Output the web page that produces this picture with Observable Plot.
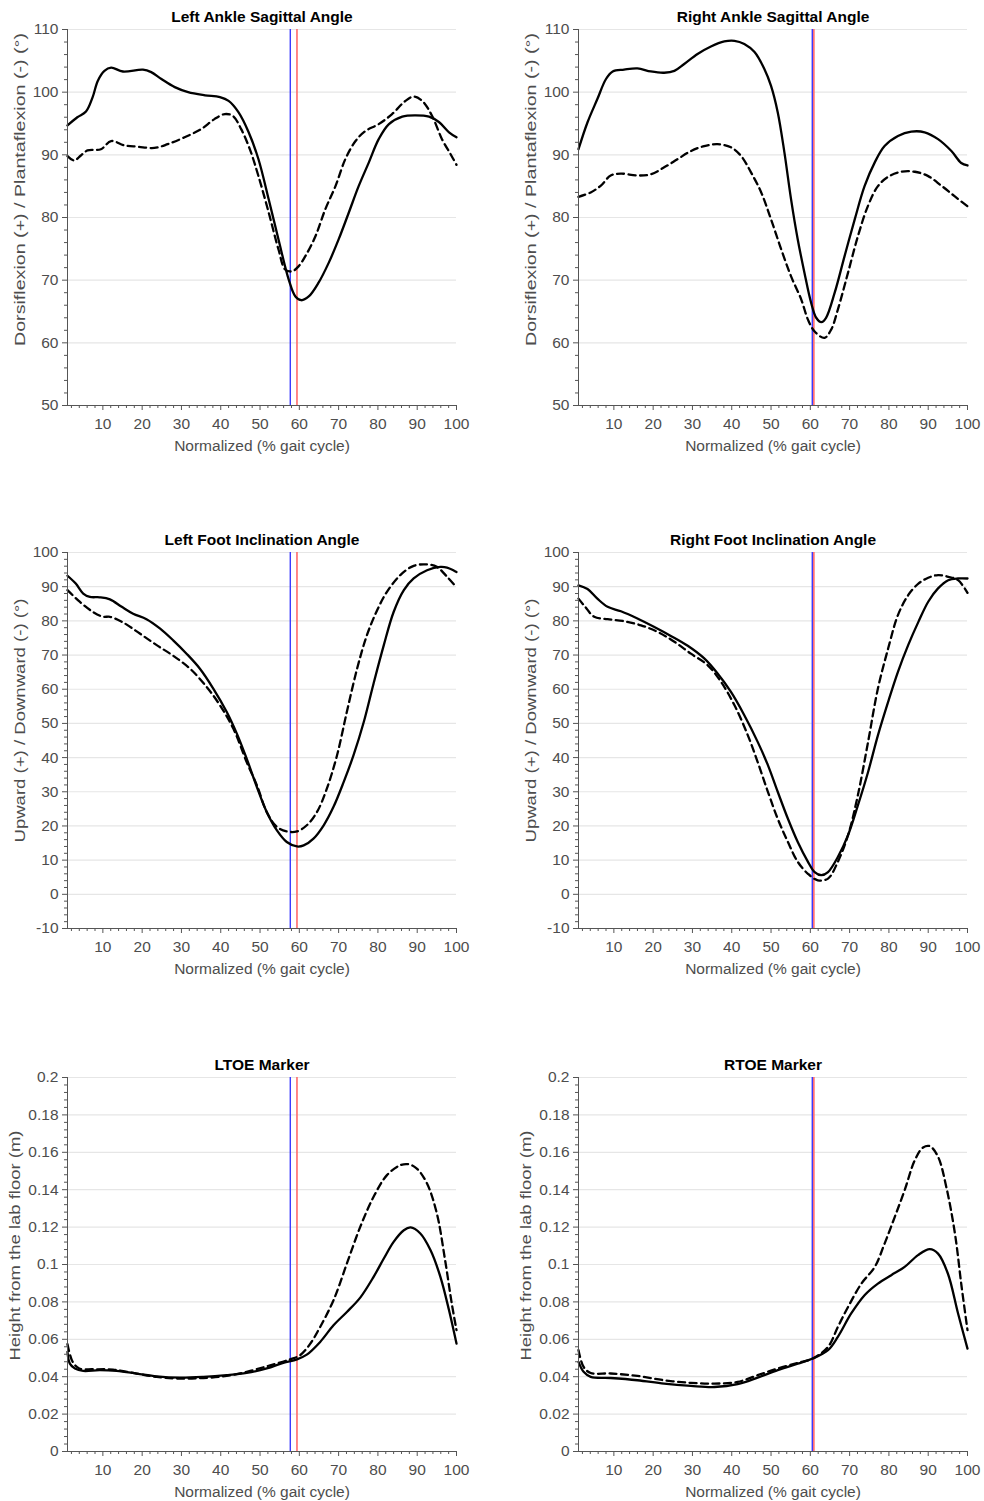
<!DOCTYPE html>
<html>
<head>
<meta charset="utf-8">
<script src="https://cdn.jsdelivr.net/npm/d3@7"></script>
<script src="https://cdn.jsdelivr.net/npm/@observablehq/plot@0.6"></script>
<style>
  html, body { margin: 0; padding: 0; background: #fff; }
  #wrap { position: relative; width: 984px; height: 1501px; overflow: hidden; font-family: "Liberation Sans", Arial, sans-serif; }
  #wrap > div { position: absolute; width: 492px; }
  #wrap svg { max-width: none !important; display: block; }
</style>
</head>
<body>
<div id="wrap"></div>
<script>
// ---------- data ----------
const titles = ["Left Ankle Sagittal Angle", "Right Ankle Sagittal Angle",
  "Left Foot Inclination Angle", "Right Foot Inclination Angle",
  "LTOE Marker", "RTOE Marker"];
const yLabels = ["Dorsiflexion (+) / Plantaflexion (-) (°)",
  "Upward (+) / Downward (-) (°)", "Height from the lab floor (m)"];
const xLabel = "Normalized (% gait cycle)";
const xTicks = [10, 20, 30, 40, 50, 60, 70, 80, 90, 100];

// event lines (% gait cycle): [blue, red]
const leftEvents = [57.7, 59.4];
const rightEvents = [60.5, 60.9];

// Left ankle sagittal angle
const lAnkleSolidX = [1,3.5,5.7,7.4,8.7,10.4,12.1,15.1,20.2,22.3,24.9,28.3,31.7,36,39.8,42,44.5,47.1,49.6,52.2,54.7,57.3,59,60.5,62.4,64.9,67.5,70,72.6,75.1,77.7,80.2,82.8,86.2,89.6,93,95.6,98.1,100];
const lAnkleSolidY = [94.7,96,96.9,99.2,101.8,103.4,103.9,103.3,103.6,103.2,102.1,100.8,100,99.5,99.2,98.6,96.8,93.6,89.3,82.9,76.5,70.1,67.4,66.8,67.4,69.6,72.8,76.5,80.8,85,88.8,92.5,94.9,96.1,96.3,96.1,95.2,93.6,92.8];
const lAnkleDashX = [1,2.7,4.4,6.1,9.5,12.1,15.5,18.9,23.1,26.5,30.8,35,38.4,41,43.1,45.2,47.4,49.6,52.2,54.7,56.4,58.1,59.8,61.5,64.1,66.6,69.2,71.7,74.3,76.8,80.2,83.6,87,89.1,91.3,93.8,96.3,98.5,100];
const lAnkleDashY = [89.8,89.1,89.9,90.7,90.9,92.2,91.5,91.3,91.1,91.7,92.8,94.1,95.7,96.5,96.2,94.1,90.9,86.6,80.8,74.9,71.7,71.4,72.2,73.8,77,81.3,85,89.3,92.2,93.8,94.9,96.5,98.6,99.3,98.6,96.2,92.5,90.1,88.4];

// Right ankle sagittal angle
const rAnkleSolidX = [1,3.3,5.8,8,9.7,12.6,16,19.4,22.8,25.4,27.9,31.3,34.7,38.1,40.7,43.2,45.8,48.3,50,51.7,53.4,55.1,56.8,58.5,60.2,61.5,62.8,64,66.2,68.7,71.3,73.8,76.4,78.9,82.3,85.7,89.1,92.5,95.9,98.4,100];
const rAnkleSolidY = [90.9,95.2,98.9,102.1,103.3,103.6,103.8,103.3,103.1,103.4,104.5,106.1,107.3,108.1,108.2,107.7,106.4,103.7,101,96.8,90.4,82.9,76.5,71.2,66.4,64,63.3,64,68,73.8,79.7,85,88.8,91.4,93,93.7,93.6,92.5,90.6,88.7,88.3];
const rAnkleDashX = [1,4.1,6.7,9.2,11.8,16,19.4,22.8,26.2,29.6,33,36.4,39.8,42.4,44.9,47.5,50,52.6,55.1,57.7,59.4,61.1,63.6,65.3,67,69.6,72.1,74.7,77.2,79.8,83.2,86.6,90,93.3,96.7,100];
const rAnkleDashY = [83.3,84,85.1,86.7,87,86.7,86.9,88,89.3,90.6,91.4,91.7,91.2,89.8,87.2,84,79.7,74.9,70.6,66.9,63.7,61.8,60.8,62.1,65.3,71.2,77,81.9,85,86.5,87.3,87.3,86.6,85.1,83.4,81.8];

// Left foot inclination angle
const lFootSolidX = [1,3.1,5,6.7,9.2,11.8,14.8,17.7,21.1,24.5,27.9,31.3,34.7,38.1,41.5,44.1,46.6,49.2,51.7,54.3,56.8,59.4,61.1,63.6,66.2,68.7,71.3,73.8,76.4,78.9,81.5,84,86.6,89.1,92.5,95.9,97.6,100];
const lFootSolidY = [93.2,90.9,88,87,86.9,86.3,84.1,82.1,80.5,77.8,74.3,70.4,66,60.2,53.4,47,39.7,31.4,24.1,18.7,15.3,14,14.3,16.3,20.2,25.6,32.9,40.7,50.4,61.7,72.9,82.6,89,92.4,94.8,95.8,95.6,94.3];
const lFootDashX = [1,4.1,7.5,10.1,11.8,15.2,19.4,23.7,27.9,32.2,36.4,39.8,43.2,46.6,49.2,51.7,54.3,56.8,59.4,61.9,64.5,67,69.6,72.1,74.7,77.2,79.8,82.3,85.7,89.1,92.5,95,97.6,100];
const lFootDashY = [89,85.6,82.6,81.2,81.2,79.5,76.3,72.9,69.8,66,60.7,55.3,48.5,38.7,31.9,24.1,19.7,18.4,18.4,20.2,24.1,30.9,40.7,53.4,66,75.8,83.1,88.5,93.4,96.1,96.5,95.8,92.9,89.8];

// Right foot inclination angle
const rFootSolidX = [1,3.3,5.8,8.4,11.8,16,20.3,24.5,28.8,33,36.4,39.8,43.2,46.6,49.2,51.7,54.3,56.8,59.4,61.1,62.8,64.5,67,69.6,72.1,74.7,77.2,79.8,82.3,84.9,87.5,90,92.5,95.1,97.6,100];
const rFootSolidY = [90.4,89.3,86.5,84.1,82.8,80.7,78.2,75.6,72.7,69,64.6,59.2,52.4,44.6,37.8,30,22.1,15.3,9.5,6.5,5.6,6.5,10.9,17.3,26,35.8,46.5,56.3,65.1,72.9,79.7,85.6,89.5,91.9,92.4,92.4];
const rFootDashX = [1,2.7,5,8.4,12.6,16.9,21.1,25.4,29.6,33.9,37.3,40.7,44.1,46.6,49.2,51.7,54.3,56.8,59.4,61.9,64.5,67,69.6,72.1,74.7,77.2,79.8,82.3,84.9,87.5,90,92.5,95.1,97.6,100];
const rFootDashY = [86.5,84.1,81.2,80.5,79.9,78.7,76.8,73.9,70.4,67,62.1,55.3,46.5,38.7,30,22.1,15.3,9.5,6,4.1,4.6,9.5,17.3,29,44.6,60.2,71.9,81.7,87.5,90.9,92.6,93.4,92.9,91.9,88.2];

// LTOE marker height (m)
const lToeSolidX = [1,1.6,2.9,5,9.2,13.5,18.6,23.7,29.6,35.6,41.5,46.6,51.7,55.9,59.4,61.9,65.3,68.7,72.1,75.5,78.9,81.5,84,86.6,88.3,90.8,93.4,95.9,98.1,100];
const lToeSolidY = [0.0533,0.047,0.0444,0.0431,0.0435,0.0431,0.0417,0.0402,0.0395,0.0399,0.0408,0.042,0.0444,0.0474,0.0493,0.0518,0.0586,0.0675,0.0746,0.0823,0.0934,0.1032,0.1121,0.1183,0.1198,0.1166,0.1076,0.0934,0.0755,0.0577];
const lToeDashX = [1,2.3,4,7.5,12.6,18.6,23.7,29.6,35.6,41.5,47.5,52.6,57.7,60.2,62.8,65.3,68.7,72.1,75.5,78.9,82.3,85.7,87.8,89.9,92.5,95,97.1,98.8,100];
const lToeDashY = [0.0574,0.048,0.0444,0.044,0.0438,0.0417,0.0399,0.039,0.0393,0.0404,0.0431,0.0461,0.0493,0.0515,0.0577,0.0666,0.0809,0.1005,0.1201,0.1362,0.1478,0.1531,0.1536,0.1513,0.1433,0.1273,0.1023,0.0791,0.0649];

// RTOE marker height (m)
const rToeSolidX = [1,2.3,4.1,9.2,16,22.8,29.6,35.6,41.5,46.6,51.7,56.8,60.6,64.5,67,70.4,73.8,77.2,80.6,84,87.4,90.4,92.5,95,97.6,100];
const rToeSolidY = [0.0479,0.0426,0.0399,0.0393,0.0381,0.0363,0.0351,0.0345,0.036,0.0395,0.0435,0.047,0.0497,0.0542,0.0613,0.0738,0.0836,0.0898,0.0943,0.0987,0.105,0.1082,0.1058,0.0952,0.0738,0.055];
const rToeDashX = [1,2.3,4.1,9.2,16,22.8,29.6,35.6,41.5,46.6,51.7,56.8,60.6,64.5,67,69.6,73,76.4,78.9,81.5,84,86.6,88.7,90.4,92.5,94.6,96.8,98.5,100];
const rToeDashY = [0.0542,0.0452,0.042,0.0417,0.0404,0.0381,0.0367,0.0363,0.0372,0.0408,0.0444,0.0474,0.0497,0.0559,0.0666,0.0773,0.0898,0.0987,0.1112,0.1255,0.1397,0.1558,0.1626,0.1633,0.1576,0.1415,0.1166,0.0881,0.0649];

// ---------- layout ----------
const W = 492, ML = 67, MR = 36, MT = 29, MB = 52;
const AX = "#555", TXT = "#4d4d4d", GRID = "#e6e6e6";
const FONT = "Liberation Sans, Arial, sans-serif";

const range = (a, b, s) => d3.range(Math.round(a / s), Math.round(b / s) + 1).map(i => +(i * s).toFixed(6));
const pts = (xs, ys) => xs.map((x, i) => ({x, y: ys[i]}));
const fmt = d => String(+d.toFixed(4));

function panel(cfg) {
  const [y0, y1] = cfg.yDomain;
  const yMajor = range(y0, y1, cfg.yStep);
  const yMinor = range(y0, y1, cfg.yStep / 5).filter(v => !yMajor.some(m => Math.abs(m - v) < 1e-9));
  const xMinor = range(2, 100, 2).filter(v => v % 10 !== 0);
  const chart = Plot.plot({
    width: W,
    height: MT + cfg.plotH + MB,
    marginLeft: ML, marginRight: MR, marginTop: MT, marginBottom: MB,
    style: {fontFamily: FONT, fontSize: "15px", color: AX, background: "white", overflow: "visible"},
    x: {domain: [1, 100]},
    y: {domain: cfg.yDomain},
    marks: [
      Plot.ruleY(yMajor.filter(v => v !== y0), {stroke: GRID, strokeWidth: 1.2}),
      Plot.ruleX([cfg.events[0]], {stroke: "#3a3aff", strokeWidth: 1.4}),
      Plot.ruleX([cfg.events[1]], {stroke: "#ff6a6a", strokeWidth: 1.6}),
      Plot.line(pts(cfg.solidX, cfg.solidY), {x: "x", y: "y", stroke: "black", strokeWidth: 2.3, curve: "catmull-rom"}),
      Plot.line(pts(cfg.dashX, cfg.dashY), {x: "x", y: "y", stroke: "black", strokeWidth: 2.3, curve: "catmull-rom", strokeDasharray: "7,4.5"}),
      Plot.axisX({ticks: xMinor, tickSize: 3, tickFormat: () => "", label: null, stroke: AX}),
      Plot.axisX({ticks: xTicks, tickSize: 5, tickPadding: 7, tickFormat: fmt, label: null, stroke: AX, fill: TXT, fontSize: 15.5}),
      Plot.axisY({ticks: yMinor, tickSize: 3, tickFormat: () => "", label: null, stroke: AX}),
      Plot.axisY({ticks: yMajor, tickSize: 5, tickPadding: 4, tickFormat: fmt, label: null, stroke: AX, fill: TXT, fontSize: 15.5}),
      Plot.ruleX([1], {stroke: AX, strokeWidth: 1}),
      Plot.ruleY([y0], {stroke: AX, strokeWidth: 1}),
      Plot.text([cfg.title], {frameAnchor: "top", lineAnchor: "middle", dy: -12, fontWeight: "bold", fontSize: 15.5, fill: "black"}),
      Plot.text([xLabel], {frameAnchor: "bottom", lineAnchor: "middle", dy: 41, fontSize: 15.5, fill: TXT}),
      Plot.text([cfg.ylabel], {frameAnchor: "left", textAnchor: "middle", lineAnchor: "middle", dx: cfg.yLabelDx, dy: cfg.yLabelDy, rotate: -90, fontSize: 15.5, fill: TXT})
    ]
  });
  // the reference picture is stretched vertically: lengthen the rotated label to match
  chart.querySelectorAll("text").forEach(t => {
    if (t.textContent === cfg.ylabel) {
      t.setAttribute("textLength", cfg.yLabelLen);
      t.setAttribute("lengthAdjust", "spacingAndGlyphs");
    }
  });
  const holder = document.createElement("div");
  holder.style.left = cfg.left + "px";
  holder.style.top = cfg.top + "px";
  holder.appendChild(chart);
  document.getElementById("wrap").appendChild(holder);
}

const leftCol = 0, rightCol = 511;
const row1 = {yDomain: [50, 110], yStep: 10, plotH: 376, yLabelDx: -47, yLabelDy: -28, yLabelLen: 313, top: 0, ylabel: yLabels[0]};
const row2 = {yDomain: [-10, 100], yStep: 10, plotH: 376, yLabelDx: -47, yLabelDy: -20, yLabelLen: 244, top: 523, ylabel: yLabels[1]};
const row3 = {yDomain: [0, 0.2], yStep: 0.02, plotH: 374, yLabelDx: -52, yLabelDy: -19, yLabelLen: 230, top: 1048, ylabel: yLabels[2]};

panel({...row1, title: titles[0], events: leftEvents, left: leftCol,
  solidX: lAnkleSolidX, solidY: lAnkleSolidY, dashX: lAnkleDashX, dashY: lAnkleDashY});
panel({...row1, title: titles[1], events: rightEvents, left: rightCol,
  solidX: rAnkleSolidX, solidY: rAnkleSolidY, dashX: rAnkleDashX, dashY: rAnkleDashY});
panel({...row2, title: titles[2], events: leftEvents, left: leftCol,
  solidX: lFootSolidX, solidY: lFootSolidY, dashX: lFootDashX, dashY: lFootDashY});
panel({...row2, title: titles[3], events: rightEvents, left: rightCol,
  solidX: rFootSolidX, solidY: rFootSolidY, dashX: rFootDashX, dashY: rFootDashY});
panel({...row3, title: titles[4], events: leftEvents, left: leftCol,
  solidX: lToeSolidX, solidY: lToeSolidY, dashX: lToeDashX, dashY: lToeDashY});
panel({...row3, title: titles[5], events: rightEvents, left: rightCol,
  solidX: rToeSolidX, solidY: rToeSolidY, dashX: rToeDashX, dashY: rToeDashY});
</script>
</body>
</html>
